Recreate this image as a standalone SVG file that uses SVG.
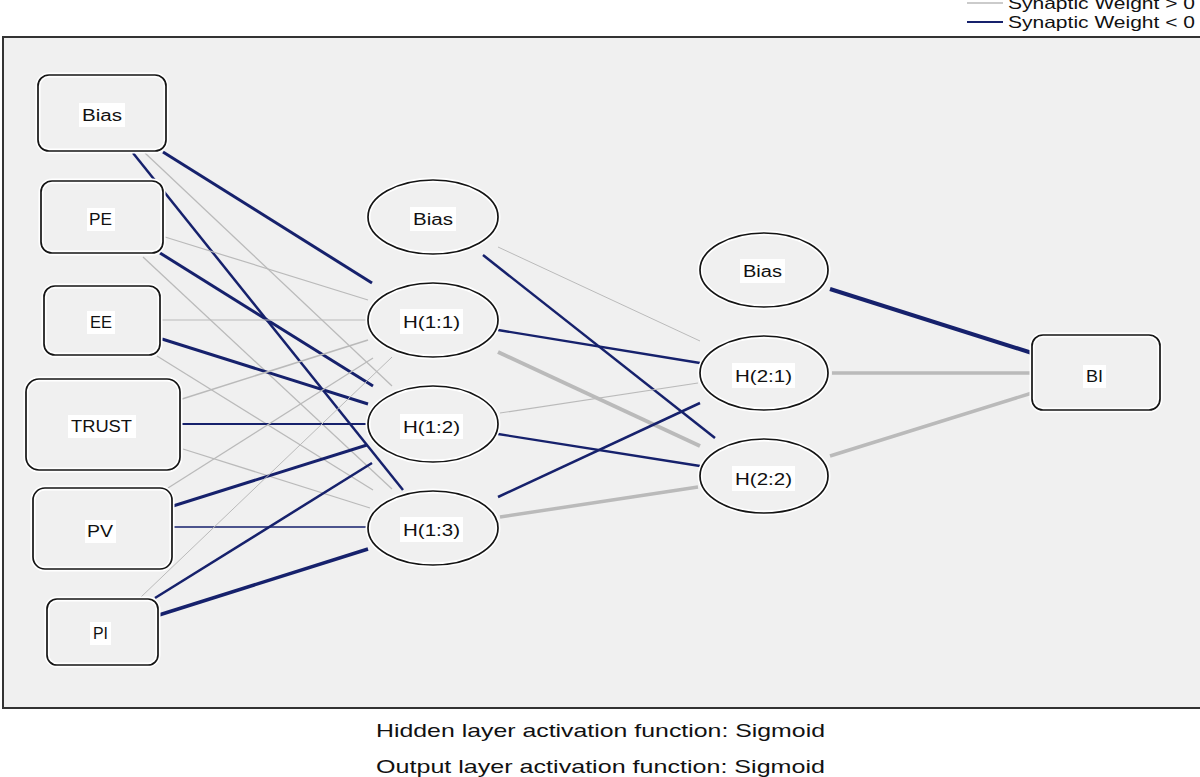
<svg xmlns="http://www.w3.org/2000/svg" width="1200" height="777" viewBox="0 0 1200 777">
<style>
text{font-family:"Liberation Sans",Arial,sans-serif;fill:#111;}
.lbl{font-size:16px;}
.cap{font-size:19px;}
.leg{font-size:16.5px;}
.halo{fill:#f0f0f0;stroke:#ffffff;stroke-width:5;}
.edge{fill:none;stroke:#141414;stroke-width:1.7;}
.tb{fill:#ffffff;}
.pos{stroke:#bababa;fill:none;}
.neg{stroke:#16216c;fill:none;}
</style>
<rect x="0" y="0" width="1200" height="777" fill="#ffffff"/>
<!-- legend -->
<g id="legend">
<line x1="967" y1="3" x2="1003" y2="3" class="pos" stroke-width="1.3"/>
<text class="leg" x="1008" y="9" textLength="187" lengthAdjust="spacingAndGlyphs">Synaptic Weight &gt; 0</text>
<line x1="967" y1="22" x2="1003" y2="22" class="neg" stroke-width="2.2"/>
<text class="leg" x="1008" y="28" textLength="187" lengthAdjust="spacingAndGlyphs">Synaptic Weight &lt; 0</text>
</g>
<!-- frame -->
<rect x="3" y="37" width="1200" height="671" fill="#f0f0f0" stroke="#333333" stroke-width="2"/>
<g id="connectors">
<!-- input -> hidden 1 -->
<line x1="163" y1="152" x2="372" y2="283" class="neg" stroke-width="3"/>
<line x1="145" y1="153" x2="392" y2="386" class="pos" stroke-width="1.3"/>
<line x1="133" y1="153" x2="403" y2="490" class="neg" stroke-width="2.5"/>
<line x1="165" y1="237" x2="368" y2="300" class="pos" stroke-width="1.2"/>
<line x1="160" y1="253" x2="373" y2="386" class="neg" stroke-width="3"/>
<line x1="143" y1="257" x2="392" y2="489" class="pos" stroke-width="1.3"/>
<line x1="160" y1="320" x2="368" y2="320" class="pos" stroke-width="1.2"/>
<line x1="162" y1="339" x2="368" y2="404" class="neg" stroke-width="3"/>
<line x1="157" y1="356" x2="373" y2="490" class="pos" stroke-width="1.3"/>
<line x1="182" y1="399" x2="368" y2="340" class="pos" stroke-width="1.6"/>
<line x1="180" y1="424" x2="368" y2="424" class="neg" stroke-width="2"/>
<line x1="183" y1="449" x2="370" y2="508" class="pos" stroke-width="1.3"/>
<line x1="168" y1="488" x2="373" y2="358" class="pos" stroke-width="1.3"/>
<line x1="173" y1="506" x2="367" y2="445" class="neg" stroke-width="3"/>
<line x1="172" y1="527" x2="368" y2="527" class="neg" stroke-width="1.5"/>
<line x1="141" y1="597" x2="392" y2="357" class="pos" stroke-width="1"/>
<line x1="155" y1="598" x2="372" y2="463" class="neg" stroke-width="2.5"/>
<line x1="159" y1="615" x2="368" y2="549" class="neg" stroke-width="3.5"/>
<!-- hidden 1 -> hidden 2 -->
<line x1="498" y1="247" x2="700" y2="341" class="pos" stroke-width="1"/>
<line x1="483" y1="255" x2="715" y2="438" class="neg" stroke-width="2.5"/>
<line x1="498" y1="330" x2="700" y2="363" class="neg" stroke-width="2.3"/>
<line x1="498" y1="352" x2="700" y2="446" class="pos" stroke-width="4"/>
<line x1="500" y1="413" x2="698" y2="383" class="pos" stroke-width="1.2"/>
<line x1="498" y1="434" x2="700" y2="466" class="neg" stroke-width="2.3"/>
<line x1="498" y1="497" x2="700" y2="403" class="neg" stroke-width="2.5"/>
<line x1="500" y1="517" x2="698" y2="487" class="pos" stroke-width="3.5"/>
<!-- hidden 2 -> output -->
<line x1="830" y1="289" x2="1032" y2="353" class="neg" stroke-width="4"/>
<line x1="832" y1="373" x2="1032" y2="373" class="pos" stroke-width="3.5"/>
<line x1="830" y1="456" x2="1032" y2="393" class="pos" stroke-width="3.5"/>
</g>
<!-- input nodes -->
<g id="in_bias">
<rect x="38" y="75" width="128" height="76" rx="11" class="halo"/><rect x="38" y="75" width="128" height="76" rx="11" class="edge"/>
<rect x="79" y="103" width="46" height="24" class="tb"/>
<text class="lbl" x="82" y="121" textLength="40" lengthAdjust="spacingAndGlyphs">Bias</text>
</g>
<g id="in_pe">
<rect x="41" y="181" width="122" height="72" rx="11" class="halo"/><rect x="41" y="181" width="122" height="72" rx="11" class="edge"/>
<rect x="87" y="208" width="28" height="23" class="tb"/>
<text class="lbl" x="89" y="225" textLength="23" lengthAdjust="spacingAndGlyphs">PE</text>
</g>
<g id="in_ee">
<rect x="44" y="286" width="116" height="69" rx="11" class="halo"/><rect x="44" y="286" width="116" height="69" rx="11" class="edge"/>
<rect x="87" y="311" width="28" height="23" class="tb"/>
<text class="lbl" x="90" y="328" textLength="22" lengthAdjust="spacingAndGlyphs">EE</text>
</g>
<g id="in_trust">
<rect x="26" y="379" width="154" height="91" rx="13" class="halo"/><rect x="26" y="379" width="154" height="91" rx="13" class="edge"/>
<rect x="68" y="415" width="68" height="23" class="tb"/>
<text class="lbl" x="71" y="432" textLength="61" lengthAdjust="spacingAndGlyphs">TRUST</text>
</g>
<g id="in_pv">
<rect x="33" y="488" width="139" height="81" rx="12" class="halo"/><rect x="33" y="488" width="139" height="81" rx="12" class="edge"/>
<rect x="85" y="520" width="31" height="23" class="tb"/>
<text class="lbl" x="87" y="537" textLength="26" lengthAdjust="spacingAndGlyphs">PV</text>
</g>
<g id="in_pi">
<rect x="47" y="599" width="111" height="66" rx="10" class="halo"/><rect x="47" y="599" width="111" height="66" rx="10" class="edge"/>
<rect x="90" y="622" width="21" height="23" class="tb"/>
<text class="lbl" x="93" y="639" textLength="15" lengthAdjust="spacingAndGlyphs">PI</text>
</g>
<!-- hidden layer 1 -->
<g id="h1_bias">
<ellipse cx="433" cy="217" rx="65" ry="37" class="halo"/><ellipse cx="433" cy="217" rx="65" ry="37" class="edge"/>
<rect x="410" y="207" width="46" height="24" class="tb"/>
<text class="lbl" x="413" y="225" textLength="40" lengthAdjust="spacingAndGlyphs">Bias</text>
</g>
<g id="h11">
<ellipse cx="433" cy="320" rx="65" ry="37" class="halo"/><ellipse cx="433" cy="320" rx="65" ry="37" class="edge"/>
<rect x="400" y="309" width="63" height="25" class="tb"/>
<text class="lbl" x="403" y="328" textLength="57" lengthAdjust="spacingAndGlyphs">H(1:1)</text>
</g>
<g id="h12">
<ellipse cx="433" cy="424" rx="65" ry="38" class="halo"/><ellipse cx="433" cy="424" rx="65" ry="38" class="edge"/>
<rect x="400" y="414" width="63" height="25" class="tb"/>
<text class="lbl" x="403" y="433" textLength="57" lengthAdjust="spacingAndGlyphs">H(1:2)</text>
</g>
<g id="h13">
<ellipse cx="433" cy="528" rx="65" ry="37" class="halo"/><ellipse cx="433" cy="528" rx="65" ry="37" class="edge"/>
<rect x="400" y="517" width="63" height="25" class="tb"/>
<text class="lbl" x="403" y="536" textLength="57" lengthAdjust="spacingAndGlyphs">H(1:3)</text>
</g>
<!-- hidden layer 2 -->
<g id="h2_bias">
<ellipse cx="764" cy="270" rx="64" ry="37" class="halo"/><ellipse cx="764" cy="270" rx="64" ry="37" class="edge"/>
<rect x="740" y="259" width="45" height="24" class="tb"/>
<text class="lbl" x="743" y="277" textLength="39" lengthAdjust="spacingAndGlyphs">Bias</text>
</g>
<g id="h21">
<ellipse cx="764" cy="373" rx="64" ry="37" class="halo"/><ellipse cx="764" cy="373" rx="64" ry="37" class="edge"/>
<rect x="732" y="363" width="63" height="25" class="tb"/>
<text class="lbl" x="735" y="382" textLength="57" lengthAdjust="spacingAndGlyphs">H(2:1)</text>
</g>
<g id="h22">
<ellipse cx="764" cy="476" rx="64" ry="37" class="halo"/><ellipse cx="764" cy="476" rx="64" ry="37" class="edge"/>
<rect x="732" y="466" width="63" height="25" class="tb"/>
<text class="lbl" x="735" y="485" textLength="57" lengthAdjust="spacingAndGlyphs">H(2:2)</text>
</g>
<!-- output -->
<g id="out_bi">
<rect x="1032" y="335" width="128" height="75" rx="11" class="halo"/><rect x="1032" y="335" width="128" height="75" rx="11" class="edge"/>
<rect x="1083" y="365" width="23" height="23" class="tb"/>
<text class="lbl" x="1086" y="382" textLength="17" lengthAdjust="spacingAndGlyphs">BI</text>
</g>
<g id="captions">
<text class="cap" x="376" y="737" textLength="449" lengthAdjust="spacingAndGlyphs">Hidden layer activation function: Sigmoid</text>
<text class="cap" x="376" y="773" textLength="449" lengthAdjust="spacingAndGlyphs">Output layer activation function: Sigmoid</text>
</g>
</svg>
